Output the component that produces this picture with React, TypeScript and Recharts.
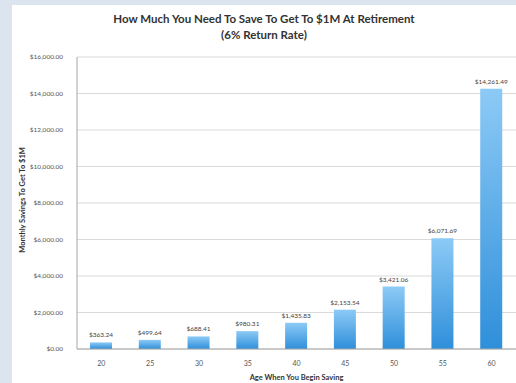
import { BarChart, Bar, CartesianGrid, XAxis, YAxis, LabelList } from 'recharts'

const ages = ['20', '25', '30', '35', '40', '45', '50', '55', '60']
const monthlySavings = [363.24, 499.64, 688.41, 980.31, 1435.83, 2153.54, 3421.06, 6071.69, 14261.49]
const yTicks = [0, 2000, 4000, 6000, 8000, 10000, 12000, 14000, 16000]

const data = ages.map((age, i) => ({ age, savings: monthlySavings[i] }))

const money = (v: number) =>
  '$' + v.toLocaleString('en-US', { minimumFractionDigits: 2, maximumFractionDigits: 2 })

const font = 'Lato, "Open Sans", sans-serif'

const App = () => {
  return (
    <div style={{ position: 'absolute', top: 0, left: 0, width: 516, height: 383, background: '#dce5ef', fontFamily: font, overflow: 'hidden' }}>
      <div style={{ position: 'absolute', top: 5, left: 12, width: 504, height: 378, background: '#ffffff' }}>
        <div style={{ position: 'absolute', top: 6, left: 0, width: 504, textAlign: 'center', fontWeight: 700, fontSize: 11.5, lineHeight: '16px', color: '#333' }}>
          How Much You Need To Save To Get To $1M At Retirement
          <br />
          (6% Return Rate)
        </div>
        <div style={{ position: 'absolute', left: 10, top: 195, width: 0, height: 0 }}>
          <div style={{ position: 'absolute', transform: 'translate(-50%, -50%) rotate(-90deg)', whiteSpace: 'nowrap', fontSize: 7.5, fontWeight: 700, color: '#333' }}>
            Monthly Savings To Get To $1M
          </div>
        </div>
        <BarChart width={504} height={378} data={data}
          margin={{ top: 52, right: 0, left: 0, bottom: 0 }}>
          <defs>
            <linearGradient id="barFill" x1="0" y1="0" x2="0" y2="1">
              <stop offset="0%" stopColor="#8ccaf6" />
              <stop offset="100%" stopColor="#2f8fda" />
            </linearGradient>
          </defs>
          <CartesianGrid vertical={false} stroke="#d9d9d9" />
          <XAxis dataKey="age" height={34} tickLine={false} axisLine={{ stroke: '#a6a6a6' }}
            tick={{ fontSize: 7, fill: '#555', fontFamily: font }} tickMargin={6}
            label={{ value: 'Age When You Begin Saving', position: 'insideBottom', offset: 3, fontSize: 7.5, fontWeight: 700, fill: '#333', fontFamily: font }} />
          <YAxis width={65} domain={[0, 16000]} ticks={yTicks} tickFormatter={money} tickLine={false}
            axisLine={{ stroke: '#a6a6a6' }} tick={{ fontSize: 6.5, fill: '#555', fontFamily: font }} tickMargin={8} />
          <Bar dataKey="savings" fill="url(#barFill)" barSize={22} isAnimationActive={false}>
            <LabelList dataKey="savings" position="top" formatter={(v: any) => money(Number(v))}
              style={{ fontSize: 6.5, fill: '#444', fontFamily: font }} offset={5} />
          </Bar>
        </BarChart>
      </div>
    </div>
  )
}

export default App
